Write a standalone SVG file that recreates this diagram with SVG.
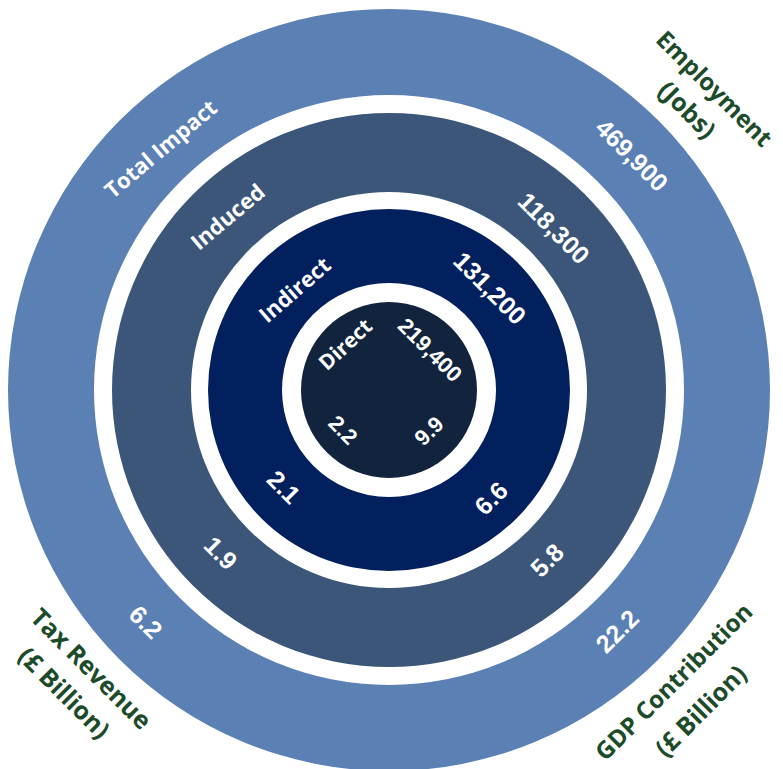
<svg xmlns="http://www.w3.org/2000/svg" width="783" height="769" viewBox="0 0 783 769">
<style>
.lbl{font-family:"Open Sans","DejaVu Sans",sans-serif;font-weight:700;fill:#ffffff;text-anchor:middle;dominant-baseline:central}
.num{font-family:"Liberation Sans",Arial,sans-serif;font-weight:700;fill:#ffffff;text-anchor:middle;dominant-baseline:central}
.cat{font-family:"Open Sans","DejaVu Sans",sans-serif;font-weight:700;fill:#1c4b2a;text-anchor:middle;dominant-baseline:central;font-size:25px}
</style>
<rect width="783" height="769" fill="#ffffff"/>
<g id="ring-total">
<circle cx="389" cy="390" r="381" fill="#5b80b4"/>
<circle cx="389" cy="390" r="295" fill="#ffffff"/>
</g>
<g id="ring-induced">
<circle cx="389" cy="390" r="277" fill="#3b5679"/>
<circle cx="389" cy="390" r="198" fill="#ffffff"/>
</g>
<g id="ring-indirect">
<circle cx="389" cy="390" r="181" fill="#02205e"/>
<circle cx="389" cy="390" r="107" fill="#ffffff"/>
</g>
<g id="ring-direct">
<circle cx="389" cy="390" r="88" fill="#12233d"/>
</g>
<g id="connectors"></g>
<g id="labels">
<text class="lbl" font-size="22" transform="translate(160,148) rotate(-40)">Total Impact</text>
<text class="lbl" font-size="22" transform="translate(227,216) rotate(-40)">Induced</text>
<text class="lbl" font-size="22" transform="translate(294,289) rotate(-41)">Indirect</text>
<text class="lbl" font-size="21" transform="translate(345,344) rotate(-43)">Direct</text>
</g>
<g id="employment">
<text class="num" font-size="25" transform="translate(632,155) rotate(45)">469,900</text>
<text class="num" font-size="25" transform="translate(554,228) rotate(45)">118,300</text>
<text class="num" font-size="25" transform="translate(490,288) rotate(45)">131,200</text>
<text class="num" font-size="22" transform="translate(430,350) rotate(45)">219,400</text>
<text class="cat" font-size="24" style="font-size:24px" transform="translate(715,88) rotate(45)">Employment</text>
<text class="cat" transform="translate(688,109) rotate(45)">(Jobs)</text>
</g>
<g id="tax">
<text class="num" font-size="25" transform="translate(146,622) rotate(45)">6.2</text>
<text class="num" font-size="25" transform="translate(221,553) rotate(45)">1.9</text>
<text class="num" font-size="25" transform="translate(284,487) rotate(45)">2.1</text>
<text class="num" font-size="22" transform="translate(343,430) rotate(45)">2.2</text>
<text class="cat" transform="translate(92,668) rotate(45)">Tax Revenue</text>
<text class="cat" transform="translate(65,692) rotate(45)">(£ Billion)</text>
</g>
<g id="gdp">
<text class="num" font-size="25" transform="translate(617,631) rotate(-45)">22.2</text>
<text class="num" font-size="25" transform="translate(547,560) rotate(-45)">5.8</text>
<text class="num" font-size="25" transform="translate(491,498) rotate(-45)">6.6</text>
<text class="num" font-size="22" transform="translate(429,431) rotate(-45)">9.9</text>
<text class="cat" style="font-size:24px" transform="translate(673,681) rotate(-45)">GDP Contribution</text>
<text class="cat" transform="translate(700,710) rotate(-45)">(£ Billion)</text>
</g>
</svg>
